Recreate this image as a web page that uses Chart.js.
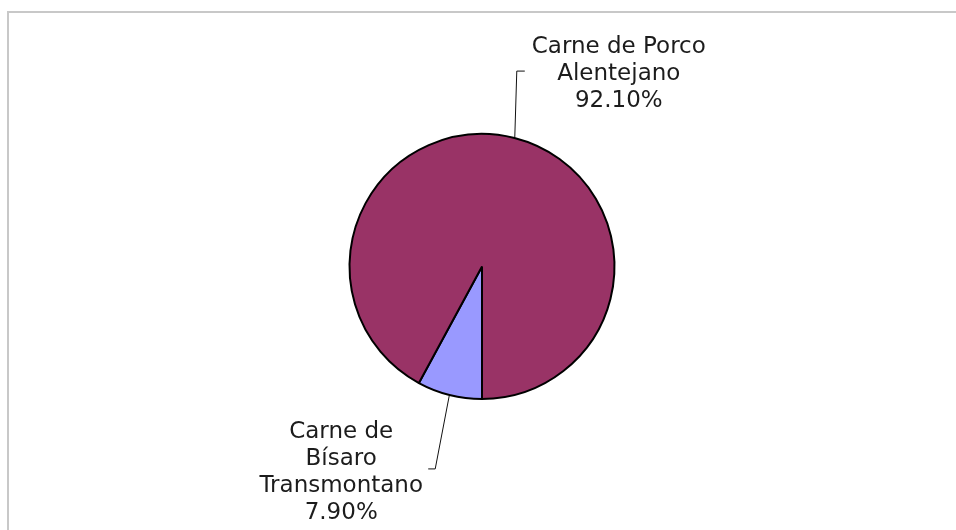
<!DOCTYPE html>
<html>
<head>
<meta charset="utf-8">
<script src="https://cdn.jsdelivr.net/npm/chart.js@4"></script>
<style>
  html, body { margin: 0; padding: 0; background: #fff; }
  canvas { display: block; }
</style>
</head>
<body>
<canvas id="pieChart" width="956" height="530"></canvas>
<script>
// data
const categories = ['Carne de Bísaro Transmontano', 'Carne de Porco Alentejano'];
const labelLines = [['Carne de', 'Bísaro', 'Transmontano'], ['Carne de Porco', 'Alentejano']];
const shares = [7.9, 92.1];
const pctLabels = ['7.90%', '92.10%'];
const sliceColors = ['#9999FF', '#993366'];

// where each callout goes, relative to the slice edge
const callouts = [
  { elbowDx: -14, elbowDy: 73, tailDx: -7, textDx: -94, firstLineDy: -31 },
  { elbowDx: 2, elbowDy: -66, tailDx: 8, textDx: 102, firstLineDy: -18 }
];

const frameAndLabels = {
  id: 'frameAndLabels',
  beforeDraw(chart) {
    const ctx = chart.ctx;
    ctx.save();
    ctx.strokeStyle = '#c8c8c8';
    ctx.lineWidth = 2;
    ctx.beginPath();
    ctx.moveTo(8, 530);
    ctx.lineTo(8, 12);
    ctx.lineTo(956, 12);
    ctx.stroke();
    ctx.restore();
  },
  afterDraw(chart) {
    const ctx = chart.ctx;
    const arcs = chart.getDatasetMeta(0).data;
    ctx.save();
    ctx.font = '23px "DejaVu Sans"';
    ctx.textAlign = 'center';
    ctx.textBaseline = 'alphabetic';
    arcs.forEach((arc, i) => {
      const c = callouts[i];
      const mid = (arc.startAngle + arc.endAngle) / 2;
      const r = arc.outerRadius + 1;
      const ex = arc.x + Math.cos(mid) * r;
      const ey = arc.y + Math.sin(mid) * r;
      const bx = ex + c.elbowDx;
      const by = ey + c.elbowDy;

      ctx.strokeStyle = '#111';
      ctx.lineWidth = 1;
      ctx.beginPath();
      ctx.moveTo(ex, ey);
      ctx.lineTo(bx, by);
      ctx.lineTo(bx + c.tailDx, by);
      ctx.stroke();

      ctx.fillStyle = '#1c1c1c';
      const lines = labelLines[i].concat([pctLabels[i]]);
      lines.forEach((txt, k) => {
        ctx.fillText(txt, bx + c.textDx, by + c.firstLineDy + k * 27);
      });
    });
    ctx.restore();
  }
};

new Chart(document.getElementById('pieChart'), {
  type: 'pie',
  data: {
    labels: categories,
    datasets: [{
      data: shares,
      backgroundColor: sliceColors,
      borderColor: '#000',
      borderWidth: 2
    }]
  },
  options: {
    responsive: false,
    animation: false,
    rotation: 180,
    layout: { padding: { top: 133, bottom: 130, left: 8, right: 0 } },
    plugins: {
      legend: { display: false },
      tooltip: { enabled: false }
    }
  },
  plugins: [frameAndLabels]
});
</script>
</body>
</html>
